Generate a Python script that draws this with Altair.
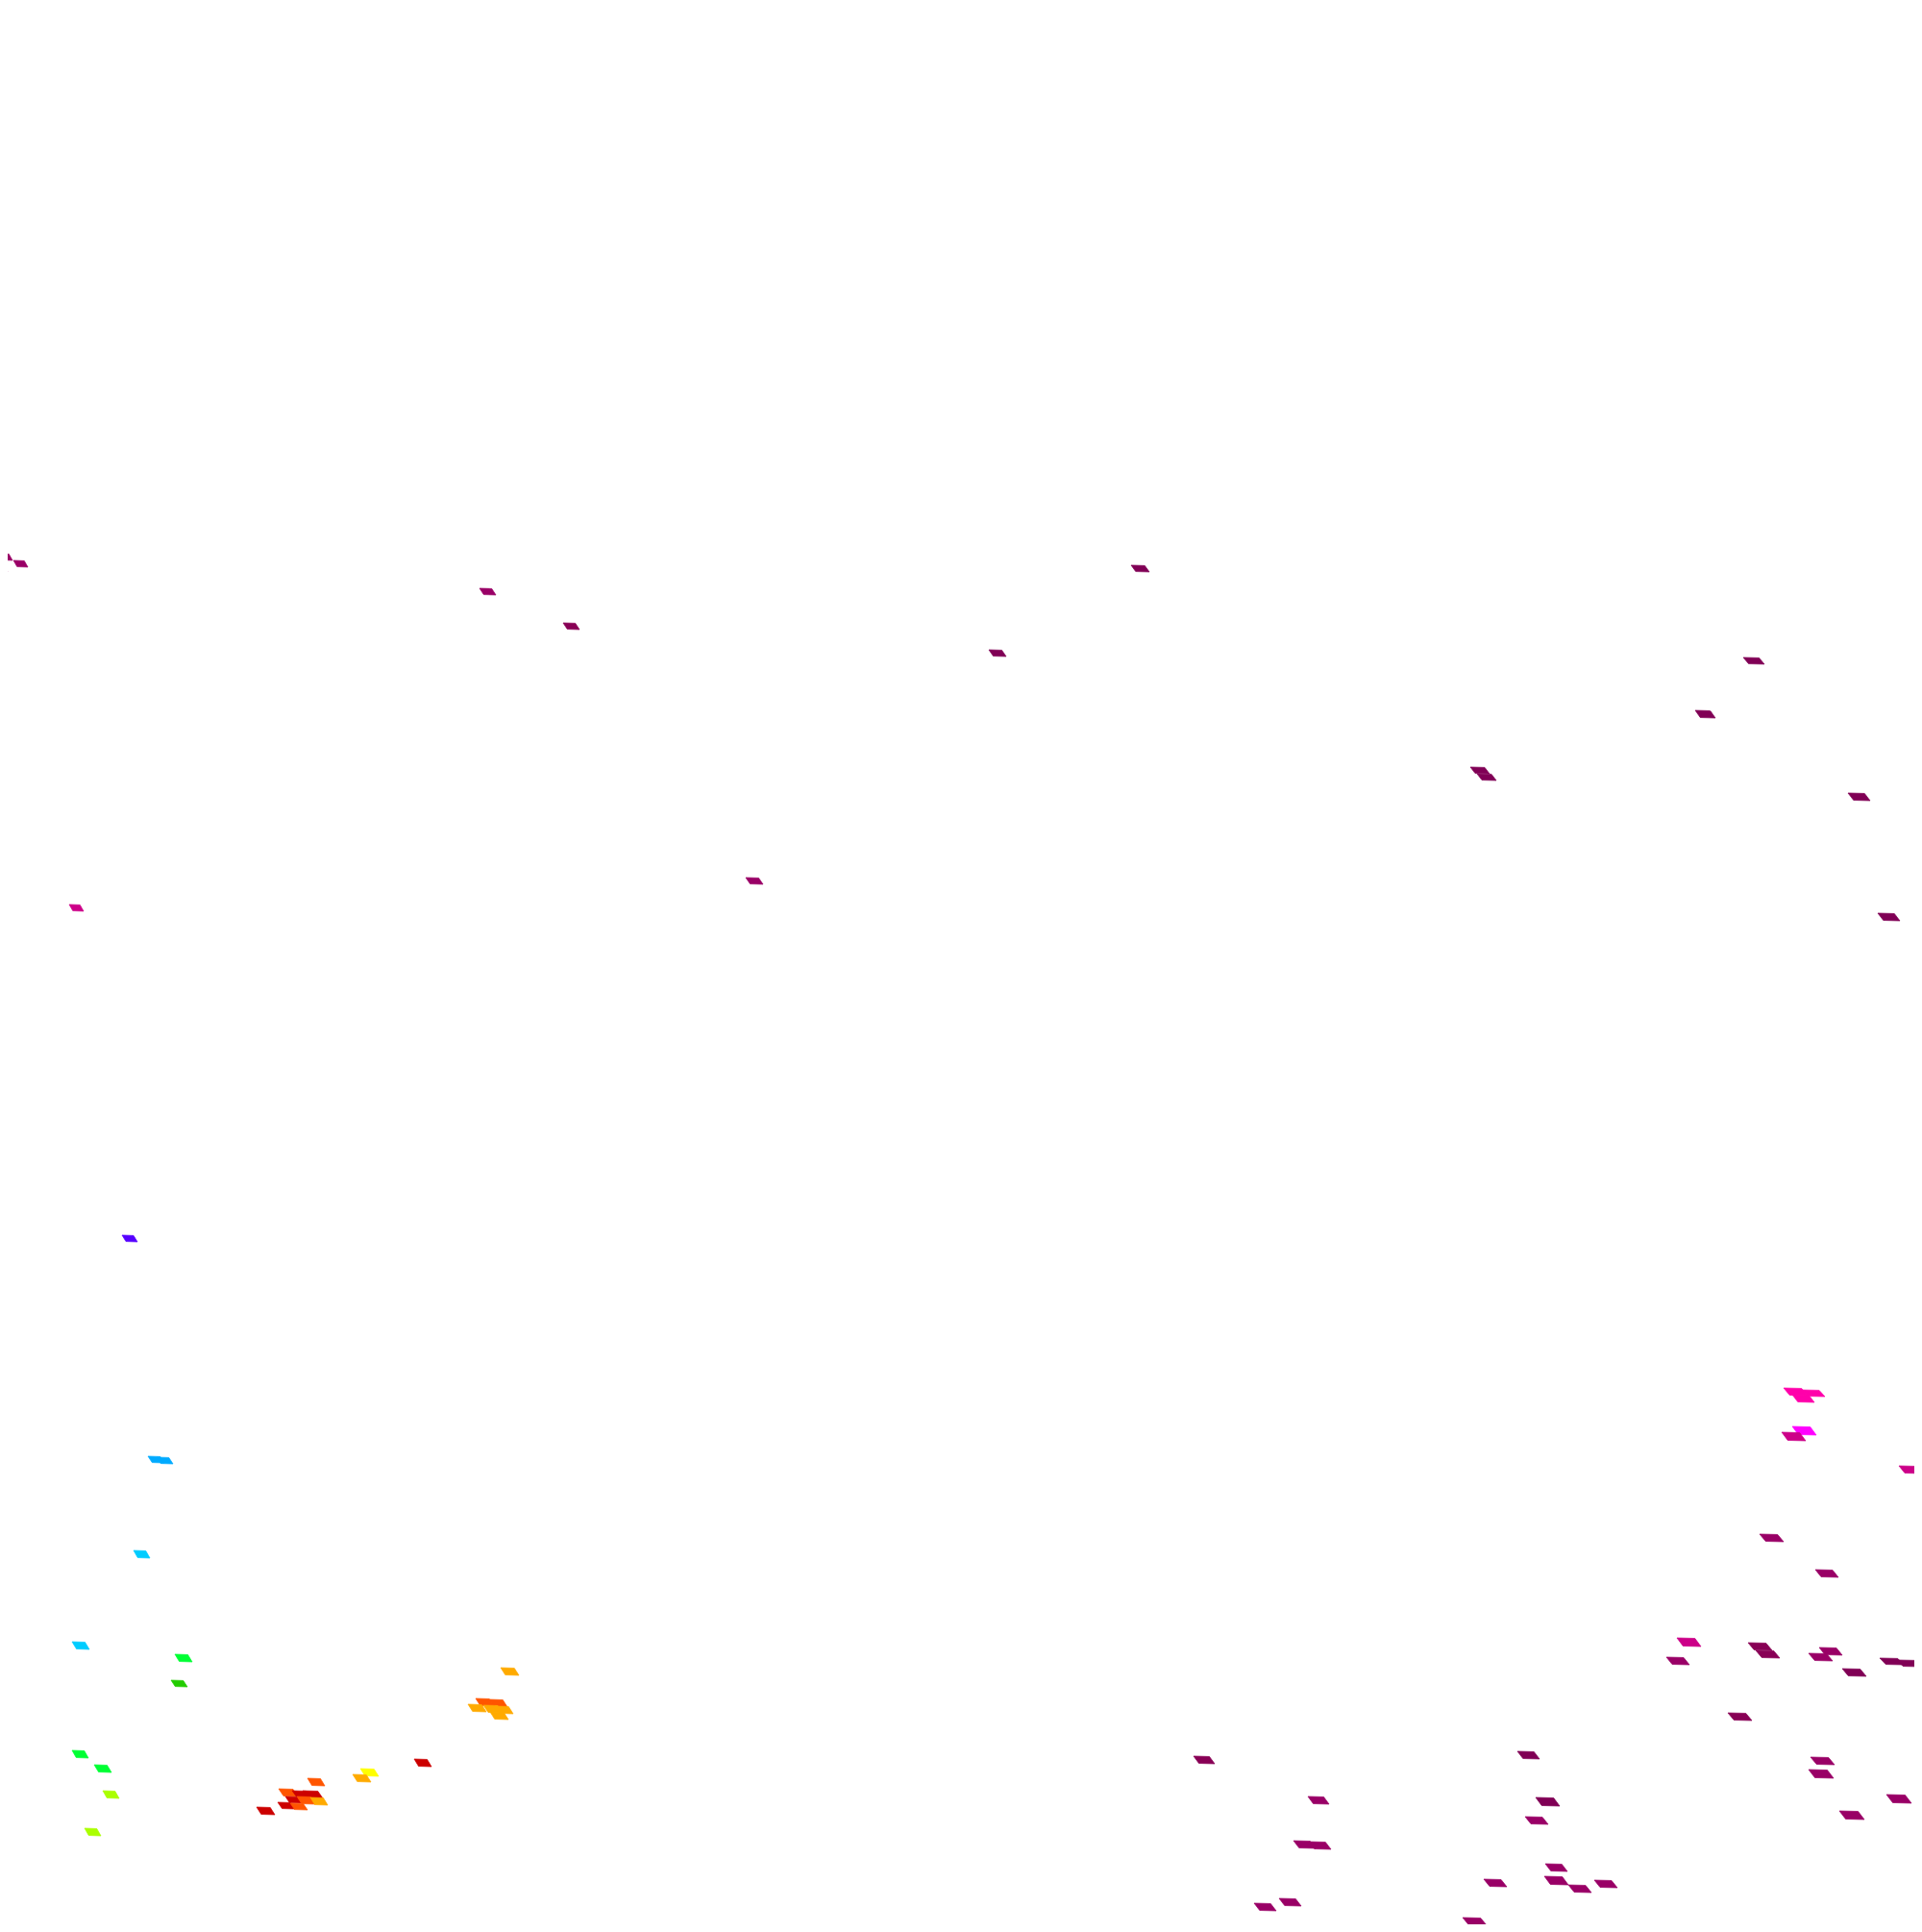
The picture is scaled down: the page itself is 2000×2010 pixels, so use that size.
import altair as alt
import pandas as pd

# one row per grid cell: left edge, top edge, width, height, value class
cells = [
    (-2,576,15,7,"P2"),(14,583,15,7,"P2"),(-7,589,15,6,"P2"),
    (499,612,17,7,"P2"),(586,648,17,7,"P1"),(1177,588,19,7,"P0"),(1029,676,18,7,"P0"),(776,913,18,7,"P2"),
    (1814,684,22,7,"P0"),(1764,739,21,8,"P0"),(1530,798,20,7,"P0"),(1537,805,20,7,"P0"),(1923,825,23,8,"P0"),(1954,950,23,8,"P0"),
    (72,941,15,7,"R1"),(127,1285,16,7,"V"),(154,1515,17,7,"B"),(163,1516,17,7,"B"),(139,1613,17,8,"C1"),(75,1708,18,8,"C1"),
    (182,1721,18,8,"G1"),(178,1748,17,7,"G2"),(75,1821,17,8,"G1"),(98,1836,18,8,"G1"),(107,1863,17,8,"L"),(88,1902,17,8,"L"),
    (521,1735,19,8,"O"),(495,1767,19,8,"OR"),(509,1768,19,8,"OR"),(487,1773,19,8,"O"),(503,1774,20,8,"O"),(515,1775,19,8,"O"),(510,1781,19,8,"O"),
    (431,1830,18,8,"RD"),(375,1840,19,8,"Y"),(367,1846,19,8,"O"),(320,1850,18,8,"OR"),
    (290,1861,20,8,"OR"),(304,1863,19,7,"RD"),(315,1863,21,8,"RD"),(297,1869,17,7,"RD"),(309,1869,19,8,"OR"),(323,1870,18,8,"O"),
    (289,1875,18,7,"RD"),(302,1876,18,7,"OR"),(267,1880,19,8,"RD"),
    (1856,1444,25,8,"H"),(1875,1446,24,7,"H"),(1865,1451,23,8,"H"),(1865,1484,25,9,"M"),(1854,1490,25,9,"R1"),
    (1996,1432,25,8,"R1"),(1976,1525,24,8,"R1"),(1831,1596,25,8,"P2"),(1889,1633,24,8,"P2"),
    (1745,1704,25,9,"R1"),(1819,1709,25,8,"P1"),(1827,1717,25,8,"P1"),(1893,1714,24,8,"P2"),(1882,1720,25,8,"P2"),
    (1956,1725,25,7,"P0"),(1974,1727,25,7,"P0"),(1917,1736,25,8,"P0"),(1734,1724,24,8,"P2"),(1798,1782,25,8,"P1"),
    (1579,1822,23,8,"P0"),(1242,1827,22,8,"P1"),(1884,1828,25,8,"P2"),(1882,1841,26,9,"P2"),(1361,1869,22,8,"P2"),
    (1598,1870,25,9,"P0"),(1587,1890,24,8,"P2"),(1963,1867,26,9,"P2"),(1914,1884,26,9,"P2"),(1346,1915,23,8,"P2"),(1362,1916,23,8,"P2"),
    (1608,1939,23,8,"P2"),(1544,1955,24,8,"P2"),(1607,1952,25,9,"P2"),(1632,1961,24,8,"P2"),(1659,1956,24,8,"P2"),
    (1331,1975,23,8,"P2"),(1305,1980,23,8,"P2"),(1522,1995,25,8,"P2"),
]
classes = ["P0","P1","P2","R1","H","M","V","B","C1","G1","G2","L","Y","O","OR","RD"]
colors = ["#800055","#880055","#990066","#cc0088","#ff00aa","#ff00ff","#5500ff","#00aaff",
          "#00ccff","#00ff33","#22cc00","#aaff00","#ffff00","#ffaa00","#ff5500","#cc0000"]

def cell_path(w, h):
    a, b = w / 10, h / 10
    pts = [(-a/2, -b/2), (-a/2 + 0.75*a, -b/2 + 0.06*b), (a/2, b/2), (-a/2 + 0.25*a, b/2 - 0.06*b)]
    return "M" + " L".join(f"{x:.3f} {y:.3f}" for x, y in pts) + " Z"

df = pd.DataFrame(cells, columns=["left","top","w","h","cls"])
df["cx"] = df.left + df.w / 2
df["cy"] = df.top + df.h / 2
df["kind"] = df.w.astype(str) + "x" + df.h.astype(str)
kinds = sorted(df.kind.unique())
paths = [cell_path(*map(int, k.split("x"))) for k in kinds]

class_scale = alt.Scale(domain=classes, range=colors)
chart = alt.Chart(df).mark_point(filled=True, opacity=1, strokeWidth=0.7, size=400).encode(
    x=alt.X("cx:Q", scale=alt.Scale(domain=[8, 1992]), axis=None),
    y=alt.Y("cy:Q", scale=alt.Scale(domain=[2002, 8]), axis=None),
    fill=alt.Fill("cls:N", scale=class_scale, legend=None),
    stroke=alt.Stroke("cls:N", scale=class_scale, legend=None),
    shape=alt.Shape("kind:N", scale=alt.Scale(domain=kinds, range=paths), legend=None),
).properties(width=1984, height=1994, padding=0, background="white",
             autosize=alt.AutoSizeParams(type="none")).configure_view(stroke=None)

chart.save("out.html", embed_options={"renderer": "svg", "actions": False})
